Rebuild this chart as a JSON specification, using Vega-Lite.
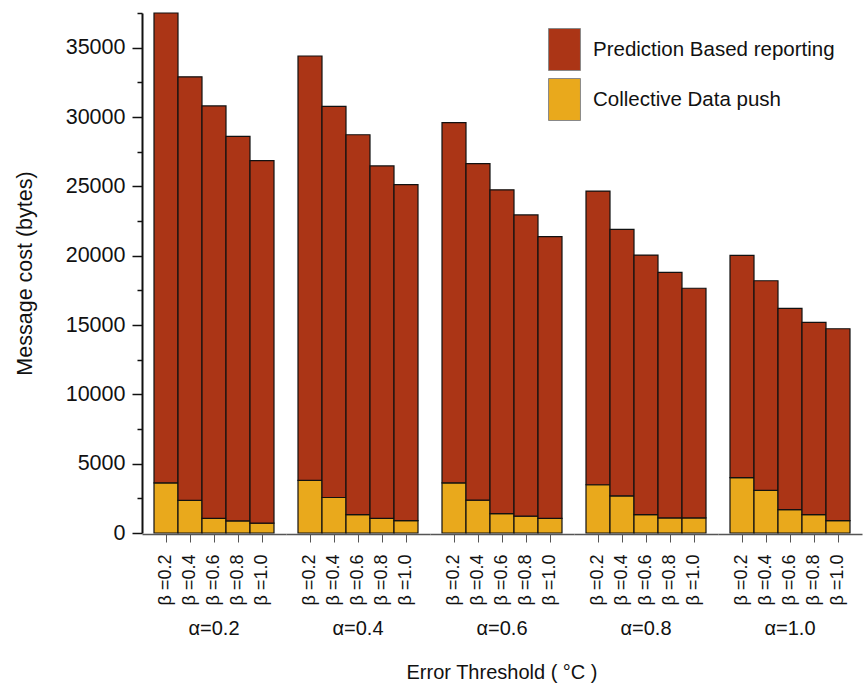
{
  "$schema": "https://vega.github.io/schema/vega-lite/v6.json",
  "padding": {"left": 14, "top": 12, "right": 2, "bottom": 5},
  "background": "white",
  "data": {"values": [
    {"alpha": "0.2", "beta": "0.2", "series": "Collective Data push", "cost": 3620},
    {"alpha": "0.2", "beta": "0.4", "series": "Collective Data push", "cost": 2350},
    {"alpha": "0.2", "beta": "0.6", "series": "Collective Data push", "cost": 1050},
    {"alpha": "0.2", "beta": "0.8", "series": "Collective Data push", "cost": 880},
    {"alpha": "0.2", "beta": "1.0", "series": "Collective Data push", "cost": 710},
    {"alpha": "0.4", "beta": "0.2", "series": "Collective Data push", "cost": 3790},
    {"alpha": "0.4", "beta": "0.4", "series": "Collective Data push", "cost": 2560},
    {"alpha": "0.4", "beta": "0.6", "series": "Collective Data push", "cost": 1330},
    {"alpha": "0.4", "beta": "0.8", "series": "Collective Data push", "cost": 1060},
    {"alpha": "0.4", "beta": "1.0", "series": "Collective Data push", "cost": 890},
    {"alpha": "0.6", "beta": "0.2", "series": "Collective Data push", "cost": 3620},
    {"alpha": "0.6", "beta": "0.4", "series": "Collective Data push", "cost": 2370},
    {"alpha": "0.6", "beta": "0.6", "series": "Collective Data push", "cost": 1400},
    {"alpha": "0.6", "beta": "0.8", "series": "Collective Data push", "cost": 1210},
    {"alpha": "0.6", "beta": "1.0", "series": "Collective Data push", "cost": 1060},
    {"alpha": "0.8", "beta": "0.2", "series": "Collective Data push", "cost": 3480},
    {"alpha": "0.8", "beta": "0.4", "series": "Collective Data push", "cost": 2680},
    {"alpha": "0.8", "beta": "0.6", "series": "Collective Data push", "cost": 1330},
    {"alpha": "0.8", "beta": "0.8", "series": "Collective Data push", "cost": 1090},
    {"alpha": "0.8", "beta": "1.0", "series": "Collective Data push", "cost": 1090},
    {"alpha": "1.0", "beta": "0.2", "series": "Collective Data push", "cost": 3990},
    {"alpha": "1.0", "beta": "0.4", "series": "Collective Data push", "cost": 3070},
    {"alpha": "1.0", "beta": "0.6", "series": "Collective Data push", "cost": 1690},
    {"alpha": "1.0", "beta": "0.8", "series": "Collective Data push", "cost": 1330},
    {"alpha": "1.0", "beta": "1.0", "series": "Collective Data push", "cost": 890},
    {"alpha": "0.2", "beta": "0.2", "series": "Prediction Based reporting", "cost": 33880},
    {"alpha": "0.2", "beta": "0.4", "series": "Prediction Based reporting", "cost": 30550},
    {"alpha": "0.2", "beta": "0.6", "series": "Prediction Based reporting", "cost": 29750},
    {"alpha": "0.2", "beta": "0.8", "series": "Prediction Based reporting", "cost": 27720},
    {"alpha": "0.2", "beta": "1.0", "series": "Prediction Based reporting", "cost": 26140},
    {"alpha": "0.4", "beta": "0.2", "series": "Prediction Based reporting", "cost": 30610},
    {"alpha": "0.4", "beta": "0.4", "series": "Prediction Based reporting", "cost": 28210},
    {"alpha": "0.4", "beta": "0.6", "series": "Prediction Based reporting", "cost": 27390},
    {"alpha": "0.4", "beta": "0.8", "series": "Prediction Based reporting", "cost": 25410},
    {"alpha": "0.4", "beta": "1.0", "series": "Prediction Based reporting", "cost": 24230},
    {"alpha": "0.6", "beta": "0.2", "series": "Prediction Based reporting", "cost": 25970},
    {"alpha": "0.6", "beta": "0.4", "series": "Prediction Based reporting", "cost": 24270},
    {"alpha": "0.6", "beta": "0.6", "series": "Prediction Based reporting", "cost": 23350},
    {"alpha": "0.6", "beta": "0.8", "series": "Prediction Based reporting", "cost": 21730},
    {"alpha": "0.6", "beta": "1.0", "series": "Prediction Based reporting", "cost": 20320},
    {"alpha": "0.8", "beta": "0.2", "series": "Prediction Based reporting", "cost": 21180},
    {"alpha": "0.8", "beta": "0.4", "series": "Prediction Based reporting", "cost": 19220},
    {"alpha": "0.8", "beta": "0.6", "series": "Prediction Based reporting", "cost": 18710},
    {"alpha": "0.8", "beta": "0.8", "series": "Prediction Based reporting", "cost": 17700},
    {"alpha": "0.8", "beta": "1.0", "series": "Prediction Based reporting", "cost": 16560},
    {"alpha": "1.0", "beta": "0.2", "series": "Prediction Based reporting", "cost": 16030},
    {"alpha": "1.0", "beta": "0.4", "series": "Prediction Based reporting", "cost": 15120},
    {"alpha": "1.0", "beta": "0.6", "series": "Prediction Based reporting", "cost": 14510},
    {"alpha": "1.0", "beta": "0.8", "series": "Prediction Based reporting", "cost": 13860},
    {"alpha": "1.0", "beta": "1.0", "series": "Prediction Based reporting", "cost": 13840}
  ]},
  "facet": {
    "column": {
      "field": "alpha",
      "type": "ordinal",
      "title": "Error Threshold ( °C )",
      "header": {
        "labelOrient": "bottom",
        "titleOrient": "bottom",
        "labelExpr": "'α=' + datum.value",
        "labelFont": "Liberation Sans",
        "labelFontSize": 20,
        "labelColor": "#111",
        "labelPadding": 14,
        "titleFont": "Liberation Sans",
        "titleFontSize": 20,
        "titleFontWeight": "normal",
        "titleColor": "#111",
        "titlePadding": 14
      }
    }
  },
  "spacing": 0,
  "spec": {
    "width": 144,
    "height": 520,
    "mark": {"type": "bar", "stroke": "#111", "strokeWidth": 1.2},
    "encoding": {
      "x": {
        "field": "beta",
        "type": "ordinal",
        "title": null,
        "scale": {"paddingInner": 0, "paddingOuter": 0.5},
        "axis": {
          "labelAngle": -90,
          "labelExpr": "'β =' + datum.value",
          "labelFont": "Liberation Sans",
          "labelFontSize": 18,
          "labelColor": "#111",
          "labelPadding": 12,
          "domainColor": "#555",
          "domainWidth": 1.5,
          "tickColor": "#555",
          "tickSize": 8
        }
      },
      "y": {
        "field": "cost",
        "type": "quantitative",
        "stack": "zero",
        "title": "Message cost (bytes)",
        "scale": {"domain": [0, 37500], "nice": false},
        "axis": {
          "values": [0, 2500, 5000, 7500, 10000, 12500, 15000, 17500, 20000, 22500, 25000, 27500, 30000, 32500, 35000, 37500],
          "labelExpr": "datum.value % 5000 === 0 ? datum.value : ''",
          "grid": false,
          "labelFont": "Liberation Sans",
          "labelFontSize": 21.5,
          "labelColor": "#111",
          "titleFont": "Liberation Sans",
          "titleFontSize": 21.5,
          "titleFontWeight": "normal",
          "titleColor": "#111",
          "titlePadding": 29,
          "domainColor": "#111",
          "domainWidth": 2,
          "tickColor": "#111",
          "tickWidth": 1.5,
          "tickSize": {"condition": {"test": "datum.value % 5000 === 0", "value": 10}, "value": 5},
          "labelPadding": 7
        }
      },
      "color": {
        "field": "series",
        "type": "nominal",
        "scale": {
          "domain": ["Prediction Based reporting", "Collective Data push"],
          "range": ["#AB3516", "#E9A91C"]
        },
        "legend": {
          "title": null,
          "orient": "none",
          "legendX": 401,
          "legendY": 15,
          "symbolType": "M-0.76,-1H0.76V1H-0.76Z",
          "symbolSize": 1764,
          "symbolStrokeColor": "#888",
          "symbolStrokeWidth": 1,
          "symbolOpacity": 1,
          "labelFont": "Liberation Sans",
          "labelFontSize": 20.5,
          "labelColor": "#111",
          "labelLimit": 400,
          "rowPadding": 3,
          "labelOffset": 7
        }
      },
      "order": {"field": "series", "sort": "ascending"}
    }
  },
  "config": {"view": {"stroke": null}}
}
